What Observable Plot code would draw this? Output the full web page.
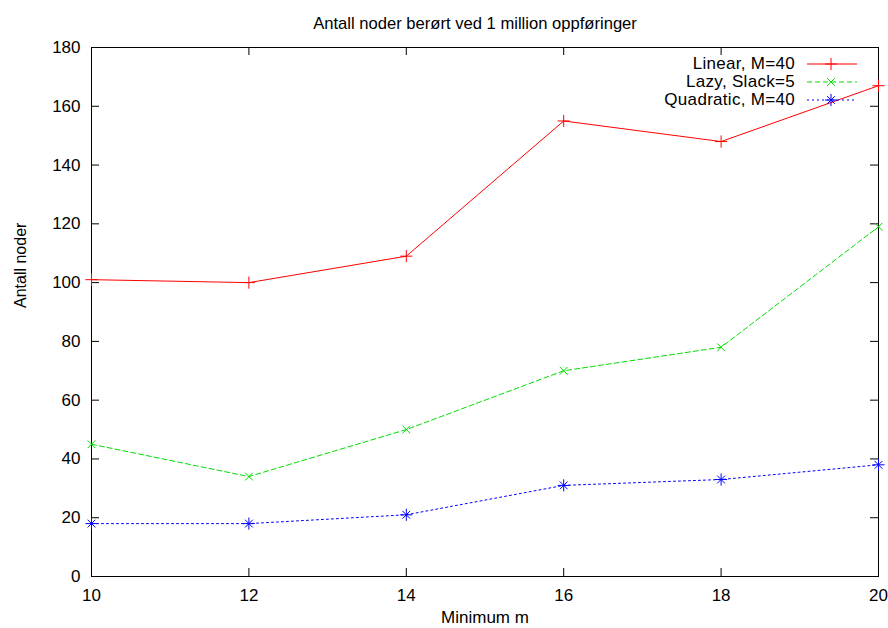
<!DOCTYPE html>
<html><head><meta charset="utf-8">
<script src="https://cdn.jsdelivr.net/npm/d3@7"></script>
<script src="https://cdn.jsdelivr.net/npm/@observablehq/plot@0.6"></script>
<style>body{margin:0;background:#fff} svg{display:block}</style>
</head><body><div id="chart"></div>
<script>
const minimumM = [10, 12, 14, 16, 18, 20];
const linearM40 = [101, 100, 109, 155, 148, 167];
const lazySlack5 = [45, 34, 50, 70, 78, 119];
const quadraticM40 = [18, 18, 21, 31, 33, 38];
const seriesNames = ["Linear, M=40", "Lazy, Slack=5", "Quadratic, M=40"];
const xTicks = [10, 12, 14, 16, 18, 20];
const yTicks = [0, 20, 40, 60, 80, 100, 120, 140, 160, 180];
const titleText = "Antall noder berørt ved 1 million oppføringer";
const xLabel = "Minimum m";
const yLabel = "Antall noder";

const seriesValues = [linearM40, lazySlack5, quadraticM40];
const seriesStyle = [
  {color: "#ff0000", dash: null, symbols: ["plus"]},
  {color: "#00dd00", dash: "5,3", symbols: ["times"]},
  {color: "#0000ff", dash: "2,3", symbols: ["plus", "times"]}
];
const W = 888, H = 628, mL = 91, mR = 10, mT = 47, mB = 52;
const pw = W - mL - mR, ph = H - mT - mB, tick = 8;
const font = "'Liberation Sans', Arial, Helvetica, sans-serif";
const symR = {plus: 4, times: 3.6};

const rows = seriesNames.map((name, i) => minimumM.map((m, j) => ({series: name, m, v: seriesValues[i][j]})));

const marks = [
  Plot.frame({stroke: "black", strokeWidth: 1}),
  Plot.tickY(yTicks, {y: d => d, insetRight: pw - tick, stroke: "black"}),
  Plot.tickY(yTicks, {y: d => d, insetLeft: pw - tick, stroke: "black"}),
  Plot.tickX(xTicks, {x: d => d, insetTop: ph - tick, stroke: "black"}),
  Plot.tickX(xTicks, {x: d => d, insetBottom: ph - tick, stroke: "black"}),
  Plot.axisY(yTicks, {tickSize: 0, tickPadding: 11, label: null, fill: "black", fontSize: 17}),
  Plot.axisX(xTicks, {tickSize: 0, tickPadding: 12, label: null, fill: "black", fontSize: 17}),
  Plot.text([titleText], {frameAnchor: "top", lineAnchor: "bottom", dy: -19, dx: -10, fill: "black", fontSize: 16.6}),
  Plot.text([xLabel], {frameAnchor: "bottom", lineAnchor: "bottom", dy: 46, fill: "black", fontSize: 17}),
  Plot.text([yLabel], {frameAnchor: "left", lineAnchor: "bottom", rotate: -90, dx: -66, dy: -4, fill: "black", fontSize: 16})
];
rows.forEach((data, i) => {
  const st = seriesStyle[i];
  marks.push(Plot.line(data, {x: "m", y: "v", stroke: st.color, strokeWidth: 1, strokeDasharray: st.dash}));
  st.symbols.forEach(sym => {
    marks.push(Plot.dot(data, {x: "m", y: "v", symbol: sym, r: symR[sym], stroke: st.color, fill: "none", strokeWidth: 1}));
  });
});

const chart = Plot.plot({
  width: W, height: H,
  marginLeft: mL, marginRight: mR, marginTop: mT, marginBottom: mB,
  style: {fontFamily: font, fontSize: "16px", background: "white", color: "black"},
  x: {domain: [10, 20]},
  y: {domain: [0, 180]},
  marks
});

// legend
const svg = d3.select(chart);
const lg = svg.append("g").attr("font-family", font).attr("font-size", 17);
const textX = 795, lineX1 = 807, lineX2 = 857, markX = 831, row0 = 64, rowH = 18;
const symMap = {plus: d3.symbolPlus, times: d3.symbolTimes};
seriesNames.forEach((name, i) => {
  const st = seriesStyle[i];
  const y = row0 + i * rowH;
  lg.append("text").attr("x", textX).attr("y", y).attr("dy", "0.32em").attr("text-anchor", "end")
    .attr("letter-spacing", "0.3px").attr("fill", "black").text(name);
  lg.append("line").attr("x1", lineX1).attr("x2", lineX2).attr("y1", y).attr("y2", y)
    .attr("stroke", st.color).attr("stroke-width", 1).attr("stroke-dasharray", st.dash);
  st.symbols.forEach(sym => {
    const r = symR[sym];
    lg.append("path").attr("d", d3.symbol(symMap[sym], Math.PI * r * r)())
      .attr("transform", `translate(${markX},${y})`).attr("fill", "none").attr("stroke", st.color).attr("stroke-width", 1);
  });
});

document.getElementById("chart").appendChild(chart);
</script>
</body></html>
